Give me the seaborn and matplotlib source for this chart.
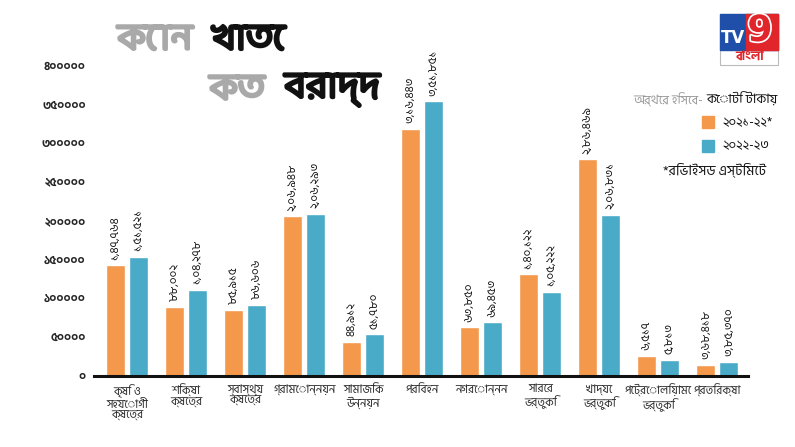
import warnings
warnings.simplefilter(action='ignore')
import pandas as pd
import matplotlib
matplotlib.use('Agg')
import matplotlib.pyplot as plt
import matplotlib.patheffects as pe
import seaborn as sns
from matplotlib import font_manager
from matplotlib.patches import Rectangle

# Chart data (values in crore rupees)
categories = ['কৃষি ও\nসহযোগী\nক্ষেত্র', 'শিক্ষা\nক্ষেত্র', 'স্বাস্থ্য\nক্ষেত্র', 'গ্রামোন্নয়ন',
              'সামাজিক\nউন্নয়ন', 'পরিবহন', 'নগরোন্নন', 'সারের\nভর্তুকি',
              'খাদ্যে\nভর্তুকি', 'পেট্রোলিয়ামে\nভর্তুকি', 'প্রতিরক্ষা']
values_2122 = [142500, 89400, 85500, 206000, 44200, 319000, 62700, 131000, 279600, 25800, 14200]
values_2223 = [154000, 111400, 92000, 209000, 54000, 354400, 69200, 108700, 207500, 20600, 18000]
labels_2122 = ['১,৪৭,৭৬৪', '৮৮,০০২', '৮৫,৯১৫', '২,০৬,৯৪৮', '৪৪,৯১২', '৩,১৬,৪৪৩',
               '৬৩,৮৫০', '১,৪০,১২২', '২,৮৬,৪৬৯', '৬,৫১৭', '৩,৬৮,৪১৮']
labels_2223 = ['১,৫১,৫২১', '১,০৪,২৭৮', '৮৬,৬০৬', '২,০৬,২৯৩', '৫১,৭৮০', '৩,৫১,৮৫১',
               '৬৯,৪৫৩', '১,০৫,২২২', '২,০৬,৮৩১', '৫,৮১৩', '৩,৮৫,৩৭০']
series_names = ['২০২১-২২*', '২০২২-২৩']
y_ticks = [0, 50000, 100000, 150000, 200000, 250000, 300000, 350000, 400000]

ORANGE = '#f4984b'
BLUE = '#4aabc8'

installed = {f.name for f in font_manager.fontManager.ttflist}


def pick(names):
    for n in names:
        if n in installed:
            return n
    return 'DejaVu Sans'


body_font = pick(['Hind Siliguri', 'Noto Sans Bengali', 'Anek Bangla', 'Baloo Da 2', 'Atma', 'FreeSans'])
title_font = pick(['Baloo Da 2', 'Anek Bangla', body_font])

sns.set_theme(style='white')
plt.rcParams['font.family'] = [body_font, 'DejaVu Sans']


def bn_digits(n):
    return str(n).translate(str.maketrans('0123456789', '০১২৩৪৫৬৭৮৯'))


df = pd.DataFrame({
    'category': categories * 2,
    'value': values_2122 + values_2223,
    'year': [series_names[0]] * len(categories) + [series_names[1]] * len(categories),
})

fig = plt.figure(figsize=(7.95, 4.47), dpi=100)
ax = fig.add_axes([94 / 795, 1 - 376 / 447, (748 - 94) / 795, (376 - 65.7) / 447])

sns.barplot(data=df, x='category', y='value', hue='year', palette=[ORANGE, BLUE],
            width=0.78, gap=0.17, saturation=1, ax=ax, legend=False)

# Rotated value labels above each bar
for container, labels in zip(ax.containers, [labels_2122, labels_2223]):
    for bar, lab in zip(container, labels):
        ax.annotate(lab, (bar.get_x() + bar.get_width() / 2, bar.get_height()),
                    xytext=(0, 4), textcoords='offset points', rotation=90,
                    ha='center', va='bottom', fontsize=8.5, color='#111111')

ax.set_xlim(-0.56, 10.52)
ax.set_ylim(0, 400000)
ax.set_yticks(y_ticks)
ax.set_yticklabels([bn_digits(v) for v in y_ticks], fontsize=8.5, fontweight='bold')
ax.set_xticks(range(len(categories)))
ax.set_xticklabels(categories, fontsize=8.3, linespacing=1.1)
ax.tick_params(axis='both', length=0)
ax.tick_params(axis='y', pad=6)
ax.tick_params(axis='x', pad=6)
ax.set_xlabel('')
ax.set_ylabel('')
for side in ['top', 'right', 'left']:
    ax.spines[side].set_visible(False)
ax.spines['bottom'].set_color('#111111')
ax.spines['bottom'].set_linewidth(2.2)

# Title (heavier look via a same-colour stroke)
for txt, x, y, col in [('কোন', 118, 40, '#a9a9a9'), ('খাতে', 212, 40, '#111111'),
                       ('কত', 210, 90, '#a9a9a9'), ('বরাদ্দ', 285, 90, '#111111')]:
    fig.text(x / 795, 1 - y / 447, txt, fontsize=27, color=col, va='center',
             family=[title_font, 'DejaVu Sans'],
             path_effects=[pe.withStroke(linewidth=2.2, foreground=col)])

# Legend block
fig.text(706 / 795, 1 - 100 / 447, 'অর্থের হিসেব- ', fontsize=9, color='#999999', ha='right', va='center')
fig.text(706 / 795, 1 - 100 / 447, 'কোটি টাকায়', fontsize=9.5, color='#111111', ha='left', va='center')
for i, (name, col) in enumerate(zip(series_names, [ORANGE, BLUE])):
    yc = 1 - (122 + 24 * i) / 447
    fig.patches.append(Rectangle((702 / 795, yc - 6 / 447), 12 / 795, 12 / 447,
                                 transform=fig.transFigure, color=col))
    fig.text(722 / 795, yc, name, fontsize=9.5, color='#111111', va='center')
fig.text(663 / 795, 1 - 170 / 447, '*রিভাইসড এস্টিমেট', fontsize=10, color='#111111', va='center')

# TV9 logo
fig.patches.append(Rectangle((720 / 795, 1 - 65 / 447), 58 / 795, 51 / 447, transform=fig.transFigure,
                             facecolor='white', edgecolor='#bbbbbb', linewidth=0.8))
fig.patches.append(Rectangle((720 / 795, 1 - 50 / 447), 58 / 795, 36 / 447,
                             transform=fig.transFigure, color='#1f4fa8'))
fig.patches.append(Rectangle((746 / 795, 1 - 50 / 447), 32 / 795, 36 / 447,
                             transform=fig.transFigure, color='#e0252b'))
fig.text(733 / 795, 1 - 38 / 447, 'TV', fontsize=12, fontweight='bold', family='DejaVu Sans',
         color='white', ha='center', va='center')
fig.text(760 / 795, 1 - 31 / 447, '9', fontsize=26, fontweight='bold', family='DejaVu Sans',
         color='#e0252b', ha='center', va='center',
         path_effects=[pe.withStroke(linewidth=2.5, foreground='white')])
fig.text(750 / 795, 1 - 57 / 447, 'বাংলা', fontsize=9, fontweight='bold', color='#e0252b',
         ha='center', va='center')

fig.savefig('out.png', dpi=100)
